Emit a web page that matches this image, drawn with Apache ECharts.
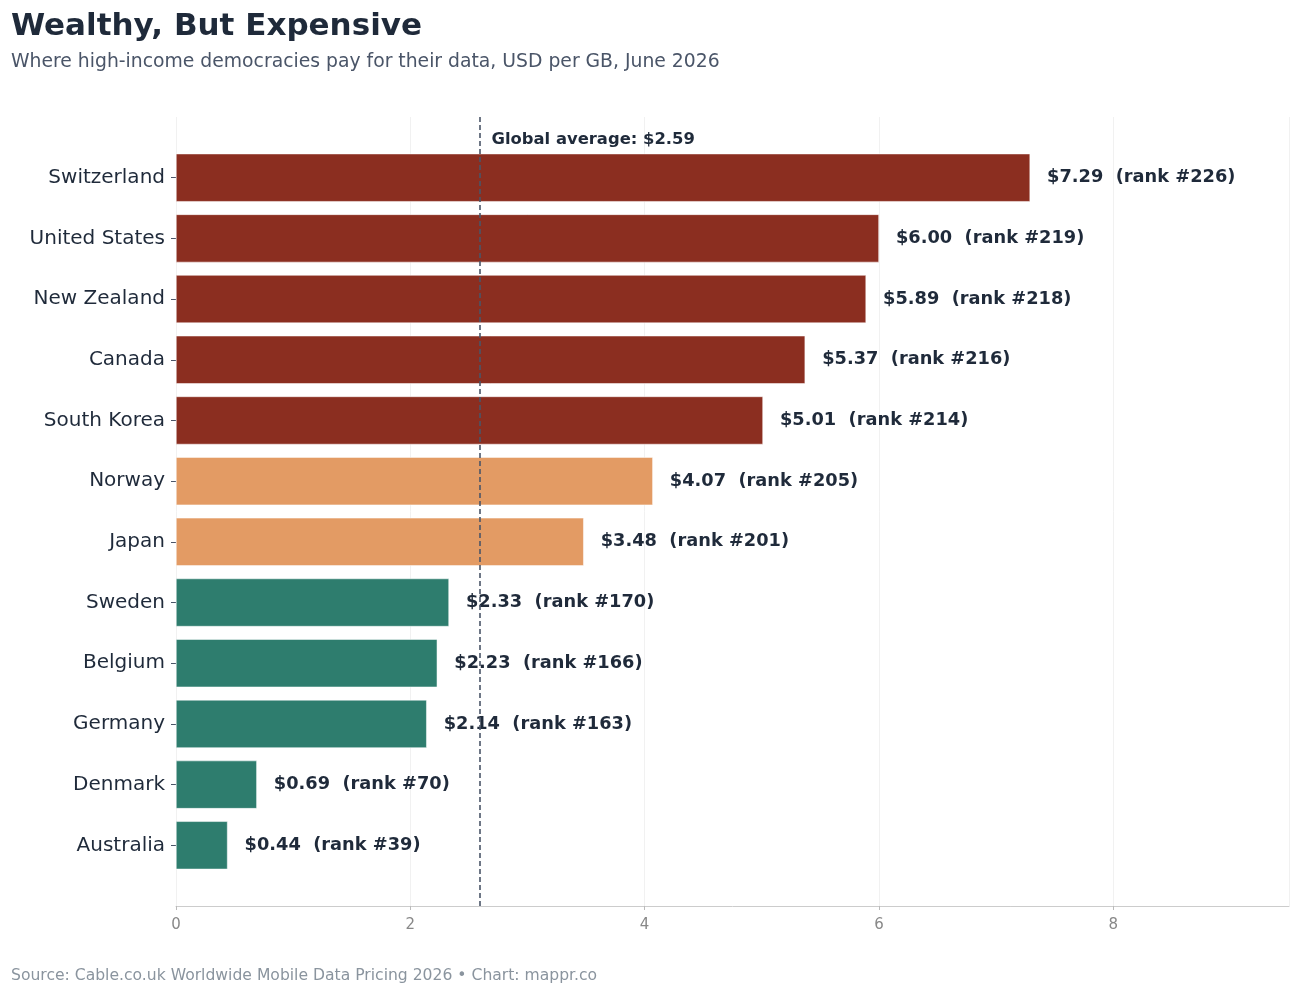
<!DOCTYPE html>
<html>
<head>
<meta charset="utf-8">
<title>Wealthy, But Expensive</title>
<script src="https://cdn.jsdelivr.net/npm/echarts@6/dist/echarts.min.js"></script>
<style>
    html, body { margin: 0; padding: 0; background: #fff; }
    #chart { width: 1300px; height: 994px; }
</style>
</head>
<body>
<div id="chart"></div>
<script>
// 数据
const countries = ['Switzerland', 'United States', 'New Zealand', 'Canada', 'South Korea', 'Norway',
    'Japan', 'Sweden', 'Belgium', 'Germany', 'Denmark', 'Australia']
const pricePerGB = [7.29, 6.00, 5.89, 5.37, 5.01, 4.07, 3.48, 2.33, 2.23, 2.14, 0.69, 0.44]
const ranks = [226, 219, 218, 216, 214, 205, 201, 170, 166, 163, 70, 39]
const globalAverage = 2.59
const xTicks = [0, 2, 4, 6, 8]

const TEXT = '#1f2a3a'
const FONT = 'DejaVu Sans'

// 价格分档配色
function barColor (v) {
    if (v >= 5) return '#8b2e20'
    if (v > globalAverage) return '#e39b64'
    return '#2e7d6e'
}

// 上下各留一个空类目作为边距
const categories = [''].concat(countries, [''])
const barData = [null].concat(pricePerGB.map((v, i) => ({
    value: v,
    rank: ranks[i],
    itemStyle: { color: barColor(v) }
})), [null])

const chart = echarts.init(document.getElementById('chart'), null, { renderer: 'canvas' })

const option = {
    backgroundColor: '#ffffff',
    animation: false,
    textStyle: { fontFamily: FONT },
    title: [
        {
            text: 'Wealthy, But Expensive',
            left: 6, top: 6,
            textStyle: { fontSize: 31, fontWeight: 'bold', color: TEXT, fontFamily: FONT }
        },
        {
            text: 'Where high-income democracies pay for their data, USD per GB, June 2026',
            left: 6, top: 48,
            textStyle: { fontSize: 18.8, fontWeight: 'normal', color: '#4a5568', fontFamily: FONT }
        },
        {
            text: 'Source: Cable.co.uk Worldwide Mobile Data Pricing 2026 \u2022 Chart: mappr.co',
            left: 6, top: 963,
            textStyle: { fontSize: 15.6, fontWeight: 'normal', color: '#8a949e', fontFamily: FONT }
        }
    ],
    grid: { left: 176, right: 11, top: 117, bottom: 88, containLabel: false },
    xAxis: {
        type: 'value',
        min: 0,
        max: 9.5,
        interval: 2,
        axisLine: { show: true, lineStyle: { color: '#cccccc', width: 1 } },
        axisTick: { show: true, length: 4, lineStyle: { color: '#bbbbbb' } },
        axisLabel: {
            color: '#888888', fontSize: 15, margin: 12, fontFamily: FONT,
            showMaxLabel: false,
            formatter: v => (xTicks.indexOf(v) >= 0 ? String(v) : '')
        },
        splitLine: { show: true, lineStyle: { color: '#f1f1f1', width: 1 } }
    },
    yAxis: {
        type: 'category',
        data: categories,
        inverse: true,
        boundaryGap: false,
        axisLine: { show: false },
        axisTick: {
            show: true, length: 5,
            interval: (idx, val) => val !== '',
            lineStyle: { color: '#4a5568' }
        },
        axisLabel: { color: TEXT, fontSize: 20, margin: 11, fontFamily: FONT, interval: 0 },
        splitLine: { show: false }
    },
    series: [{
        type: 'bar',
        data: barData,
        barWidth: 48,
        itemStyle: { borderColor: '#ffffff', borderWidth: 0.5 },
        label: {
            show: true,
            position: 'right',
            distance: 17,
            color: TEXT,
            fontSize: 17.8,
            fontWeight: 'bold',
            fontFamily: FONT,
            formatter: p => '$' + p.value.toFixed(2) + '  (rank #' + p.data.rank + ')'
        },
        markLine: {
            silent: true,
            symbol: 'none',
            label: { show: false },
            lineStyle: { color: '#4a5568', type: [5, 3], width: 1.6 },
            data: [{ xAxis: globalAverage }]
        }
    }]
}

chart.setOption(option)

// 平均线标注
const avgTop = chart.convertToPixel({ gridIndex: 0 }, [globalAverage, 0])
chart.setOption({
    graphic: [{
        type: 'text',
        x: avgTop[0] + 12,
        y: avgTop[1] + 23,
        style: {
            text: 'Global average: $' + globalAverage.toFixed(2),
            fill: TEXT,
            font: 'bold 16.4px "DejaVu Sans"',
            verticalAlign: 'middle'
        }
    }]
})
</script>
</body>
</html>
